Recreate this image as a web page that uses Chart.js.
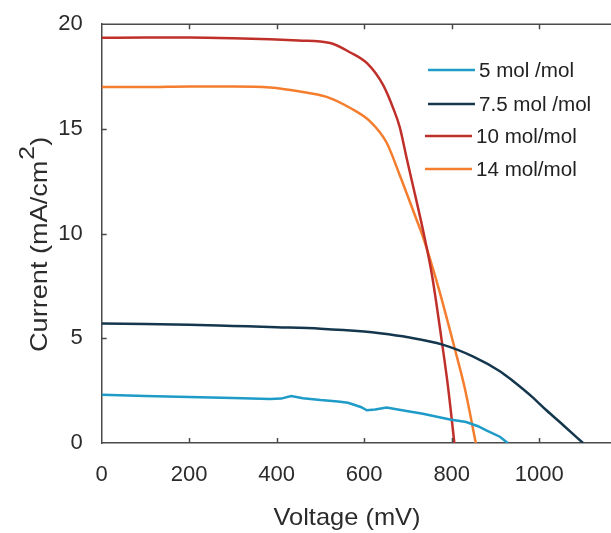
<!DOCTYPE html>
<html>
<head>
  <title>J-V curves</title>
  <script src="https://cdn.jsdelivr.net/npm/chart.js@4.4.1/dist/chart.umd.min.js"></script>
  <style>
    html, body { margin: 0; padding: 0; background: #fff; overflow: hidden; }
    #wrap { width: 611px; height: 533px; }
  </style>
</head>
<body>
<div id="wrap"><canvas id="jvChart" width="611" height="533"></canvas></div>

<script>
// measured J-V curves, voltage in mV and current density in mA/cm2
const voltage5 = [0, 100, 200, 300, 385, 410, 433, 460, 500, 540, 563, 592, 606, 625, 651, 690, 734, 796, 833, 860, 879, 910, 928];
const current5 = [2.3, 2.25, 2.2, 2.15, 2.1, 2.12, 2.24, 2.14, 2.05, 1.98, 1.92, 1.72, 1.56, 1.6, 1.69, 1.55, 1.4, 1.12, 1.0, 0.8, 0.6, 0.3, 0];

const voltage7 = [0, 100, 200, 300, 400, 500, 600, 636, 700, 779, 848, 910, 940, 985, 1017, 1055, 1100];
const current7 = [5.71, 5.68, 5.65, 5.59, 5.53, 5.46, 5.32, 5.24, 5.05, 4.7, 4.14, 3.43, 2.96, 2.18, 1.55, 0.85, 0];

const voltage10 = [0, 100, 200, 300, 385, 450, 522, 568, 608, 643, 666, 681, 697, 719, 735, 755, 777, 792, 806];
const current10 = [19.35, 19.36, 19.36, 19.33, 19.28, 19.22, 19.1, 18.65, 18.1, 17.1, 16.0, 15.1, 13.6, 11.6, 10.1, 8.0, 4.9, 2.6, 0];

const voltage14 = [0, 100, 200, 300, 385, 450, 514, 568, 614, 651, 681, 719, 735, 770, 807, 830, 855];
const current14 = [17.0, 17.0, 17.03, 17.03, 16.98, 16.8, 16.53, 16.0, 15.35, 14.35, 12.8, 10.7, 9.8, 7.4, 4.5, 2.6, 0];

const seriesNames = ['5 mol /mol', '7.5 mol /mol', '10 mol/mol', '14 mol/mol'];
const seriesColors = ['#1f9bc8', '#15374e', '#c0302a', '#f47d2e'];

const xTickValues = [0, 200, 400, 600, 800, 1000];
const yTickValues = [0, 5, 10, 15, 20];

const xTitle = 'Voltage (mV)';
const yTitle = 'Current (mA/cm';
const yTitleSup = '2';

const FONT = '"Liberation Sans", Arial, sans-serif';

function toPoints(xs, ys) {
  return xs.map((x, i) => ({ x: x, y: ys[i] }));
}

function makeSet(i, xs, ys, smooth) {
  return {
    label: seriesNames[i],
    data: toPoints(xs, ys),
    borderColor: seriesColors[i],
    backgroundColor: seriesColors[i],
    borderWidth: 2.5,
    pointRadius: 0,
    fill: false,
    cubicInterpolationMode: smooth ? 'monotone' : 'default',
    tension: 0
  };
}

// stretched text helper, the figure's lettering runs a little wide
function wideText(ctx, text, x, y, sx) {
  ctx.save();
  ctx.translate(x, y);
  ctx.scale(sx, 1);
  ctx.fillText(text, 0, 0);
  ctx.restore();
  return ctx.measureText(text).width * sx;
}

// inward tick marks, top frame line, axis titles and the legend
const framePlugin = {
  id: 'frame',
  afterDraw(chart) {
    const ctx = chart.ctx;
    const a = chart.chartArea;
    const xs = chart.scales.x;
    const ys = chart.scales.y;
    ctx.save();
    ctx.strokeStyle = '#4a4a4a';
    ctx.lineWidth = 1.5;
    ctx.beginPath();
    ctx.moveTo(a.left, a.top);
    ctx.lineTo(a.right + 2, a.top);
    xs.ticks.forEach(t => {
      const px = Math.round(xs.getPixelForValue(t.value)) + 0.5;
      if (px < a.left + 2) return;
      ctx.moveTo(px, a.bottom);
      ctx.lineTo(px, a.bottom - 5);
      ctx.moveTo(px, a.top);
      ctx.lineTo(px, a.top + 5);
    });
    ys.ticks.forEach(t => {
      const py = Math.round(ys.getPixelForValue(t.value)) + 0.5;
      if (py > a.bottom - 2 || py < a.top + 2) return;
      ctx.moveTo(a.left, py);
      ctx.lineTo(a.left + 5, py);
    });
    ctx.stroke();

    // axis titles
    ctx.fillStyle = '#2b2b2b';
    ctx.font = '24px ' + FONT;
    ctx.textBaseline = 'alphabetic';
    ctx.textAlign = 'left';
    const xw = ctx.measureText(xTitle).width * 1.06;
    wideText(ctx, xTitle, 347 - xw / 2, 525, 1.06);

    ctx.save();
    ctx.translate(47, 352);
    ctx.rotate(-Math.PI / 2);
    let off = wideText(ctx, yTitle, 0, 0, 1.13);
    ctx.font = '22px ' + FONT;
    off += wideText(ctx, yTitleSup, off + 1, -13, 1.13) + 1;
    ctx.font = '24px ' + FONT;
    wideText(ctx, ')', off, 0, 1.13);
    ctx.restore();

    // legend
    const rows = [70, 104, 136, 169];
    ctx.font = '20px ' + FONT;
    ctx.textBaseline = 'middle';
    chart.data.datasets.forEach((ds, i) => {
      const y = rows[i];
      const x0 = i < 2 ? 428 : 425;
      ctx.strokeStyle = ds.borderColor;
      ctx.lineWidth = 2.5;
      ctx.beginPath();
      ctx.moveTo(x0, y);
      ctx.lineTo(x0 + 47, y);
      ctx.stroke();
      ctx.fillStyle = '#222';
      wideText(ctx, ds.label, x0 + 51, y + 1, 1.03);
    });
    ctx.restore();
  }
};

new Chart(document.getElementById('jvChart'), {
  type: 'line',
  data: {
    datasets: [
      makeSet(0, voltage5, current5, false),
      makeSet(1, voltage7, current7, true),
      makeSet(2, voltage10, current10, true),
      makeSet(3, voltage14, current14, true)
    ]
  },
  options: {
    responsive: false,
    animation: false,
    layout: { padding: { top: 17.5, left: 0, right: 0, bottom: 0 } },
    plugins: {
      legend: { display: false },
      tooltip: { enabled: false }
    },
    scales: {
      x: {
        type: 'linear',
        min: 0,
        max: 1164,
        grid: { display: false },
        border: { display: true, color: '#4a4a4a', width: 1.5 },
        ticks: {
          maxRotation: 0,
          color: '#2b2b2b',
          padding: 11,
          font: { family: FONT, size: 22 },
          callback: v => String(v)
        },
        afterBuildTicks(scale) { scale.ticks = xTickValues.map(v => ({ value: v })); },
        afterFit(scale) { scale.height = 90; }
      },
      y: {
        min: 0,
        max: 20,
        grid: { display: false },
        border: { display: true, color: '#4a4a4a', width: 1.5 },
        ticks: {
          color: '#2b2b2b',
          padding: 11,
          font: { family: FONT, size: 22 }
        },
        afterBuildTicks(scale) { scale.ticks = yTickValues.map(v => ({ value: v })); },
        afterFit(scale) { scale.width = 101.7; }
      }
    }
  },
  plugins: [framePlugin]
});
</script>
</body>
</html>
